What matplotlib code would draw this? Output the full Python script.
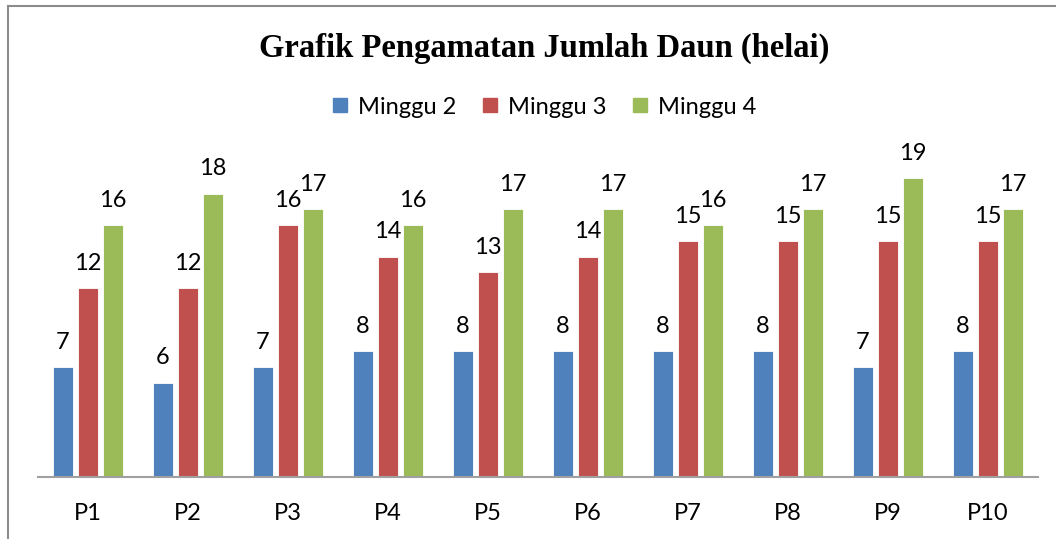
import numpy as np
import matplotlib.pyplot as plt
from matplotlib.lines import Line2D
from matplotlib.patches import Rectangle

categories = ['P1', 'P2', 'P3', 'P4', 'P5', 'P6', 'P7', 'P8', 'P9', 'P10']
minggu2 = [7, 6, 7, 8, 8, 8, 8, 8, 7, 8]
minggu3 = [12, 12, 16, 14, 13, 14, 15, 15, 15, 15]
minggu4 = [16, 18, 17, 16, 17, 17, 16, 17, 19, 17]
series_names = ['Minggu 2', 'Minggu 3', 'Minggu 4']
colors = ['#4F81BD', '#C0504D', '#9BBB59']

W, H = 1056, 539
fig = plt.figure(figsize=(W / 100, H / 100), dpi=100)
fig.patches.append(Rectangle((8 / W, -0.1), 1.2, 1 - 6 / H + 0.1, transform=fig.transFigure,
                             fill=False, edgecolor='#8C8C8C', linewidth=1.5))

ax = fig.add_axes([38 / W, (H - 477) / H, 1000 / W, 315 / H])
x = np.arange(len(categories))
step = 0.25
width = 0.2
fs = 17
for i, (vals, col) in enumerate(zip([minggu2, minggu3, minggu4], colors)):
    pos = x + (i - 1) * step
    ax.bar(pos, vals, width, color=col, edgecolor='white', linewidth=0.6, zorder=2)
    for p, v in zip(pos, vals):
        ax.annotate(str(v), (p, v), xytext=(0, 13), textcoords='offset points',
                    ha='center', va='baseline', fontsize=fs, family='Lato', color='black')

ax.set_xlim(-0.5, len(categories) - 0.5)
ax.set_ylim(0, 20)
ax.set_yticks([])
ax.set_xticks(x)
ax.set_xticklabels(categories, fontsize=fs, family='Lato')
ax.tick_params(axis='x', length=0, pad=19)
for s in ['top', 'right', 'left']:
    ax.spines[s].set_visible(False)
ax.spines['bottom'].set_color('#A0A0A0')
ax.spines['bottom'].set_linewidth(1.5)

fig.text(544 / W, 1 - 48 / H, 'Grafik Pengamatan Jumlah Daun (helai)', ha='center', va='center',
         fontsize=23.5, fontweight='bold', family='Liberation Serif')

handles = [Line2D([], [], marker='s', linestyle='none', markersize=10, color=c) for c in colors]
fig.legend(handles, series_names, loc='center', bbox_to_anchor=(544 / W, 1 - 107 / H), ncol=3,
           frameon=False, prop={'family': 'Lato', 'size': fs}, handlelength=0.7,
           handletextpad=0.4, columnspacing=1.1)

fig.savefig('out.png', dpi=100)
